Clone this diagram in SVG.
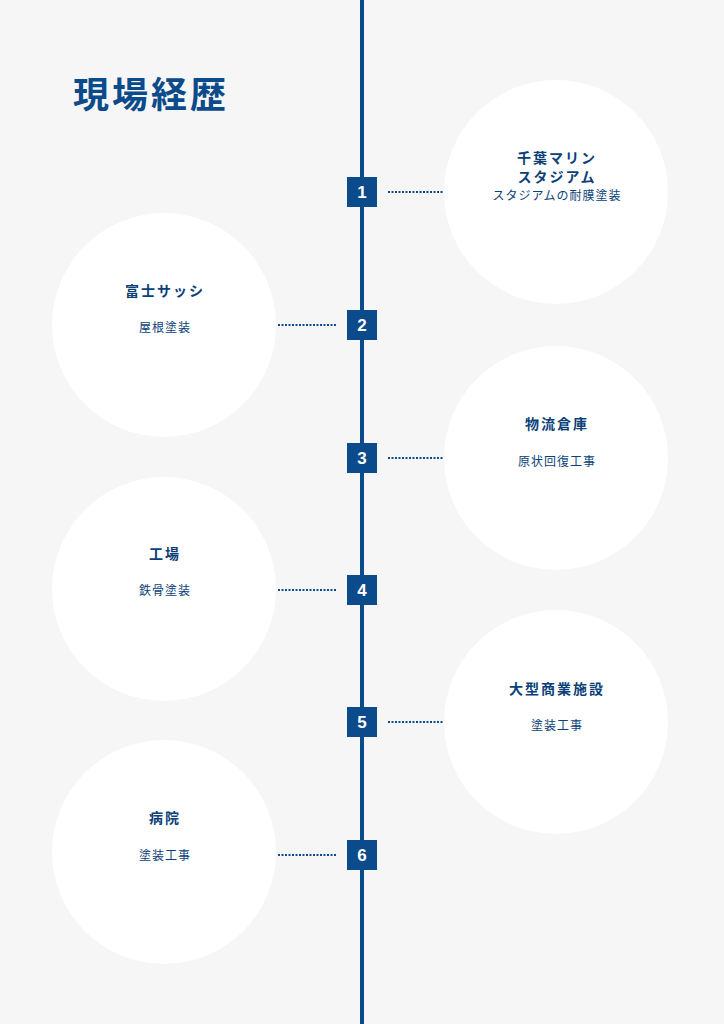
<svg xmlns="http://www.w3.org/2000/svg" width="724" height="1024" viewBox="0 0 724 1024">
<style>
.c{fill:#fff}
.sq{fill:#0b4a8b}
.n{font-family:"Liberation Sans",Arial,sans-serif;font-weight:bold;font-size:17px;fill:#fff;text-anchor:middle}
.t{font-family:"Noto Sans CJK JP",sans-serif;font-weight:bold;font-size:14px;fill:#0b3f78;text-anchor:middle;letter-spacing:2px}
.s{font-family:"Noto Sans CJK JP",sans-serif;font-size:12px;fill:#0b3f78;text-anchor:middle;letter-spacing:1px}
.d{stroke:#0b4a8b;stroke-width:2;stroke-dasharray:2 1.5}
</style>
<rect width="724" height="1024" fill="#f6f6f6"/>
<text x="73" y="108" font-family="'Noto Sans CJK JP',sans-serif" font-weight="bold" font-size="36" fill="#0b4a8b" letter-spacing="3">現場経歴</text>
<g id="connectors">
<line x1="362" y1="0" x2="362" y2="1024" stroke="#0b4a8b" stroke-width="4"/>
<line class="d" x1="388" y1="192" x2="443" y2="192"/>
<line class="d" x1="278" y1="325" x2="336" y2="325"/>
<line class="d" x1="388" y1="458" x2="443" y2="458"/>
<line class="d" x1="278" y1="590" x2="336" y2="590"/>
<line class="d" x1="388" y1="722" x2="443" y2="722"/>
<line class="d" x1="278" y1="855" x2="336" y2="855"/>
</g>
<g id="node1"><circle class="c" cx="556" cy="192" r="112"/><rect class="sq" x="347" y="177" width="30" height="30"/><text class="n" x="362" y="198">1</text>
<text class="t" x="557" y="163">千葉マリン</text><text class="t" x="557" y="182">スタジアム</text><text class="s" x="557" y="200">スタジアムの耐膜塗装</text></g>
<g id="node2"><circle class="c" cx="164" cy="325" r="112"/><rect class="sq" x="347" y="310" width="30" height="30"/><text class="n" x="362" y="331">2</text>
<text class="t" x="165" y="296">富士サッシ</text><text class="s" x="165" y="332">屋根塗装</text></g>
<g id="node3"><circle class="c" cx="556" cy="458" r="112"/><rect class="sq" x="347" y="443" width="30" height="30"/><text class="n" x="362" y="464">3</text>
<text class="t" x="557" y="429">物流倉庫</text><text class="s" x="557" y="466">原状回復工事</text></g>
<g id="node4"><circle class="c" cx="164" cy="589" r="112"/><rect class="sq" x="347" y="575" width="30" height="30"/><text class="n" x="362" y="596">4</text>
<text class="t" x="165" y="559">工場</text><text class="s" x="165" y="595">鉄骨塗装</text></g>
<g id="node5"><circle class="c" cx="556" cy="722" r="112"/><rect class="sq" x="347" y="707" width="30" height="30"/><text class="n" x="362" y="728">5</text>
<text class="t" x="557" y="694">大型商業施設</text><text class="s" x="557" y="730">塗装工事</text></g>
<g id="node6"><circle class="c" cx="164" cy="852" r="112"/><rect class="sq" x="347" y="840" width="30" height="30"/><text class="n" x="362" y="861">6</text>
<text class="t" x="165" y="823">病院</text><text class="s" x="165" y="860">塗装工事</text></g>
</svg>
